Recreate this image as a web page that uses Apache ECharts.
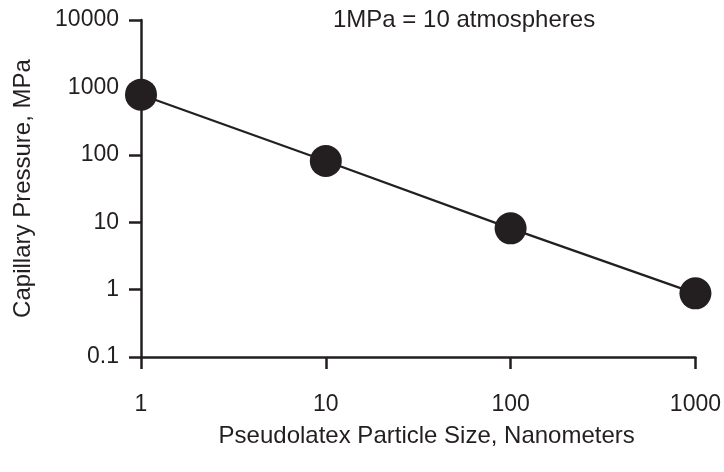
<!DOCTYPE html>
<html>
<head>
<meta charset="utf-8">
<script src="https://cdn.jsdelivr.net/npm/echarts@6/dist/echarts.min.js"></script>
<style>html,body{margin:0;padding:0;background:#fff}#c{width:724px;height:472px}</style>
</head>
<body>
<div id="c"></div>
<script>
var particleSize = [1, 10, 100, 1000];
var capillaryPressure = [780, 81, 8.1, 0.88];
var xTicks = [1, 10, 100, 1000];
var yTicks = [0.1, 1, 10, 100, 1000, 10000];
var xTitle = 'Pseudolatex Particle Size, Nanometers';
var yTitle = 'Capillary Pressure, MPa';
var note = '1MPa = 10 atmospheres';

var ink = '#231f20';
var font = 'Liberation Sans, Arial, Helvetica, sans-serif';
var chart = echarts.init(document.getElementById('c'), null, {renderer: 'canvas'});
chart.setOption({
  animation: false,
  backgroundColor: '#fff',
  grid: {left: 141, right: 24, top: 20, bottom: 115},
  graphic: [{
    type: 'text', left: 333, top: 8,
    style: {text: note, font: '24px ' + font, fill: ink}
  }],
  xAxis: {
    type: 'log', logBase: 10, min: 1, max: 1000,
    name: xTitle, nameLocation: 'middle', nameGap: 67,
    nameTextStyle: {color: ink, fontSize: 24, fontFamily: font, padding: [0, 0, 0, 17]},
    axisLine: {show: true, lineStyle: {color: ink, width: 2.5}},
    axisTick: {show: true, inside: false, length: 12, lineStyle: {color: ink, width: 2.5}},
    minorTick: {show: false},
    splitLine: {show: false},
    axisLabel: {color: ink, fontSize: 23, fontFamily: font, margin: 36,
      formatter: function (v) { return String(v); }}
  },
  yAxis: {
    type: 'log', logBase: 10, min: 0.1, max: 10000,
    name: yTitle, nameLocation: 'middle', nameGap: 106, nameRotate: 90,
    nameTextStyle: {color: ink, fontSize: 24, fontFamily: font},
    axisLine: {show: true, lineStyle: {color: ink, width: 2.5}},
    axisTick: {show: true, inside: false, length: 12, lineStyle: {color: ink, width: 2.5}},
    splitLine: {show: false},
    axisLabel: {color: ink, fontSize: 23, fontFamily: font, margin: 22,
      formatter: function (v) { return v < 1 ? '0.1' : String(Math.round(v)); }}
  },
  series: [{
    type: 'line',
    data: particleSize.map(function (x, i) { return [x, capillaryPressure[i]]; }),
    symbol: 'circle', symbolSize: 32,
    lineStyle: {color: ink, width: 2.2},
    itemStyle: {color: ink},
    z: 5
  }]
});
</script>
</body>
</html>
